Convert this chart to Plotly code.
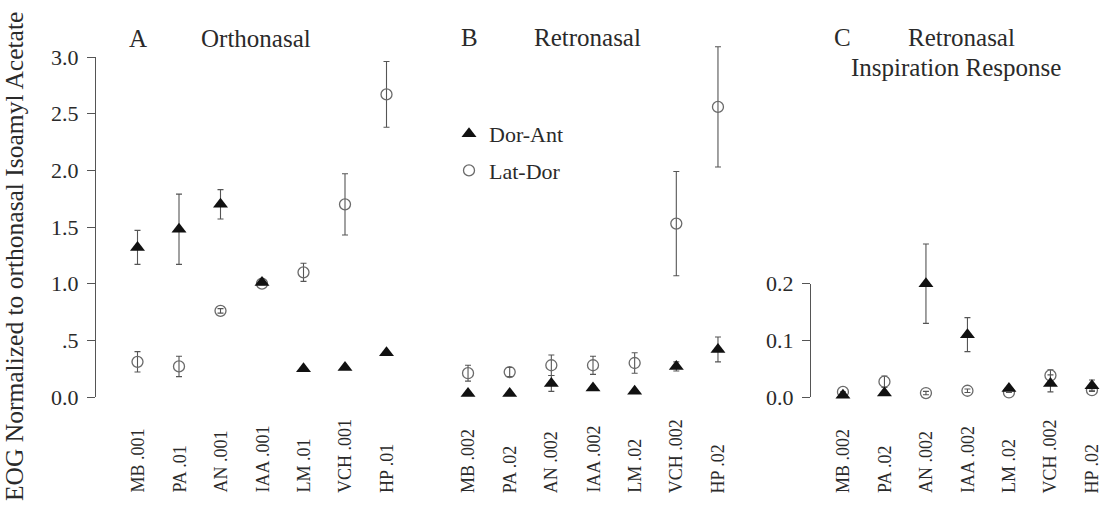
import plotly.graph_objects as go

W, H = 1116, 515

# ---------------- data ----------------
labels_a = ["MB .001", "PA .01", "AN .001", "IAA .001", "LM .01", "VCH .001", "HP .01"]
labels_b = ["MB .002", "PA .02", "AN .002", "IAA .002", "LM .02", "VCH .002", "HP .02"]
labels_c = ["MB .002", "PA .02", "AN .002", "IAA .002", "LM .02", "VCH .002", "HP .02"]

a_dor = [1.32, 1.48, 1.70, 1.01, 0.25, 0.26, 0.39]
a_dor_err = [0.15, 0.31, 0.13, 0.02, 0.0, 0.0, 0.0]
a_lat = [0.31, 0.27, 0.76, 1.00, 1.10, 1.70, 2.67]
a_lat_err = [0.09, 0.09, 0.02, 0.0, 0.08, 0.27, 0.29]

b_dor = [0.03, 0.03, 0.12, 0.08, 0.05, 0.27, 0.42]
b_dor_err = [0.0, 0.0, 0.07, 0.02, 0.0, 0.04, 0.11]
b_lat = [0.21, 0.22, 0.28, 0.28, 0.30, 1.53, 2.56]
b_lat_err = [0.07, 0.04, 0.09, 0.08, 0.09, 0.46, 0.53]

c_dor = [0.003, 0.007, 0.20, 0.11, 0.015, 0.024, 0.020]
c_dor_err = [0.0, 0.0, 0.07, 0.03, 0.0, 0.015, 0.01]
c_lat = [0.009, 0.027, 0.007, 0.011, 0.008, 0.038, 0.012]
c_lat_err = [0.0, 0.01, 0.003, 0.003, 0.0, 0.01, 0.0]

ticks_ac = [0, 0.5, 1.0, 1.5, 2.0, 2.5, 3.0]
ticktext_ac = ["0.0", ".5", "1.0", "1.5", "2.0", "2.5", "3.0"]
ticks_c = [0, 0.1, 0.2]
ticktext_c = ["0.0", "0.1", "0.2"]

# ---------------- style ----------------
FONT = "Liberation Serif"
TXT = "#2a2a2a"
AX = "#555555"
TRI = "#111111"
CIRC = "#6a6a6a"

def px_x(p):
    return p / W

def px_y(p):
    return (H - p) / H

# pixel geometry
y0_px = 397.0           # value 0
unit_px = 113.33        # pixels per unit (panels A, B)
rng_ab = [(y0_px - H) / unit_px, y0_px / unit_px]
rng_c = [rng_ab[0] / 5, rng_ab[1] / 5]

fig = go.Figure()

panels = [
    ("x", "y", labels_a, a_dor, a_dor_err, a_lat, a_lat_err, True),
    ("x2", "y2", labels_b, b_dor, b_dor_err, b_lat, b_lat_err, False),
    ("x3", "y3", labels_c, c_dor, c_dor_err, c_lat, c_lat_err, False),
]

for xa, ya, labs, dor, dor_e, lat, lat_e, show in panels:
    idx = list(range(len(labs)))
    fig.add_trace(go.Scatter(
        x=idx, y=lat, mode="markers", name="Lat-Dor", xaxis=xa, yaxis=ya,
        legendgroup="lat", legendrank=2,
        marker=dict(symbol="circle-open", size=11, color=CIRC, line=dict(width=1.3, color=CIRC)),
        error_y=dict(type="data", array=lat_e, visible=True, color=AX, thickness=1.1, width=3),
        showlegend=show, cliponaxis=False,
    ))
    fig.add_trace(go.Scatter(
        x=idx, y=dor, mode="markers", name="Dor-Ant", xaxis=xa, yaxis=ya,
        legendgroup="dor", legendrank=1,
        marker=dict(symbol="triangle-up", size=13, color=TRI, line=dict(width=0)),
        error_y=dict(type="data", array=dor_e, visible=True, color=AX, thickness=1.1, width=3),
        showlegend=show, cliponaxis=False,
    ))
    # category labels, bottom-aligned, placed through the x axis scale
    for i, lab in enumerate(labs):
        fig.add_annotation(text=lab, x=i, xref=xa, y=px_y(495), yref="paper",
                           xanchor="center", yanchor="bottom", textangle=-90, showarrow=False,
                           font=dict(family=FONT, size=18, color=TXT))

# empty helper traces so that the visible axes form subplots
fig.add_trace(go.Scatter(x=[], y=[], xaxis="x", yaxis="y4", mode="markers", showlegend=False))
fig.add_trace(go.Scatter(x=[], y=[], xaxis="x3", yaxis="y5", mode="markers", showlegend=False))

xpos_y = px_y(y0_px)

def xaxis_cfg(dom, rng):
    return dict(
        domain=dom, range=rng, anchor="free", position=xpos_y, automargin=False,
        showline=False, showgrid=False, zeroline=False, ticks="", showticklabels=False,
    )

hidden_y = dict(showline=False, showgrid=False, zeroline=False, showticklabels=False,
                ticks="", automargin=False)

vis_y = dict(
    showline=True, linecolor=AX, linewidth=1.2, showgrid=False, zeroline=False,
    ticks="outside", ticklen=8, tickcolor=AX, tickwidth=1.2, automargin=False,
    tickfont=dict(family=FONT, size=22, color=TXT), ticklabelstandoff=4,
)

fig.update_layout(
    width=W, height=H,
    margin=dict(l=0, r=0, t=0, b=0, autoexpand=False),
    paper_bgcolor="white", plot_bgcolor="rgba(0,0,0,0)",
    font=dict(family=FONT, color=TXT),
    xaxis=xaxis_cfg([px_x(96), px_x(407.25)], [-1.0, 6.5]),
    xaxis2=xaxis_cfg([px_x(447.2), px_x(738.8)], [-0.5, 6.5]),
    xaxis3=xaxis_cfg([px_x(811), px_x(1112.7)], [-0.77, 6.5]),
    yaxis=dict(domain=[0, 1], range=rng_ab, anchor="x", **hidden_y),
    yaxis2=dict(domain=[0, 1], range=rng_ab, anchor="x2", **hidden_y),
    yaxis3=dict(domain=[0, 1], range=rng_c, anchor="x3", **hidden_y),
    yaxis4=dict(
        domain=[px_y(y0_px), px_y(y0_px - 3 * unit_px)], range=[0, 3], anchor="x",
        tickmode="array", tickvals=ticks_ac, ticktext=ticktext_ac, **vis_y,
    ),
    yaxis5=dict(
        domain=[px_y(y0_px), px_y(y0_px - 0.2 * 5 * unit_px)], range=[0, 0.2], anchor="x3",
        tickmode="array", tickvals=ticks_c, ticktext=ticktext_c, **vis_y,
    ),
    legend=dict(
        x=px_x(449), y=px_y(113), xanchor="left", yanchor="top",
        bgcolor="rgba(0,0,0,0)", font=dict(family=FONT, size=22, color=TXT),
        itemwidth=30, tracegroupgap=5,
    ),
    showlegend=True,
)

title_font = dict(family=FONT, size=25, color=TXT)
annots = [
    dict(text="A", x=px_x(127), y=px_y(39)),
    dict(text="Orthonasal", x=px_x(199), y=px_y(39)),
    dict(text="B", x=px_x(459), y=px_y(37)),
    dict(text="Retronasal", x=px_x(532), y=px_y(37)),
    dict(text="C", x=px_x(832), y=px_y(37)),
    dict(text="Retronasal", x=px_x(906), y=px_y(37)),
    dict(text="Inspiration Response", x=px_x(849), y=px_y(67)),
]
for a in annots:
    fig.add_annotation(xref="paper", yref="paper", xanchor="left", yanchor="middle",
                       showarrow=False, font=title_font, **a)
fig.add_annotation(text="EOG Normalized to orthonasal Isoamyl Acetate", xref="paper", yref="paper",
                   x=px_x(14), y=px_y(257), xanchor="center", yanchor="middle", textangle=-90,
                   showarrow=False, font=dict(family=FONT, size=25.5, color=TXT))

fig.write_html("out.html")
